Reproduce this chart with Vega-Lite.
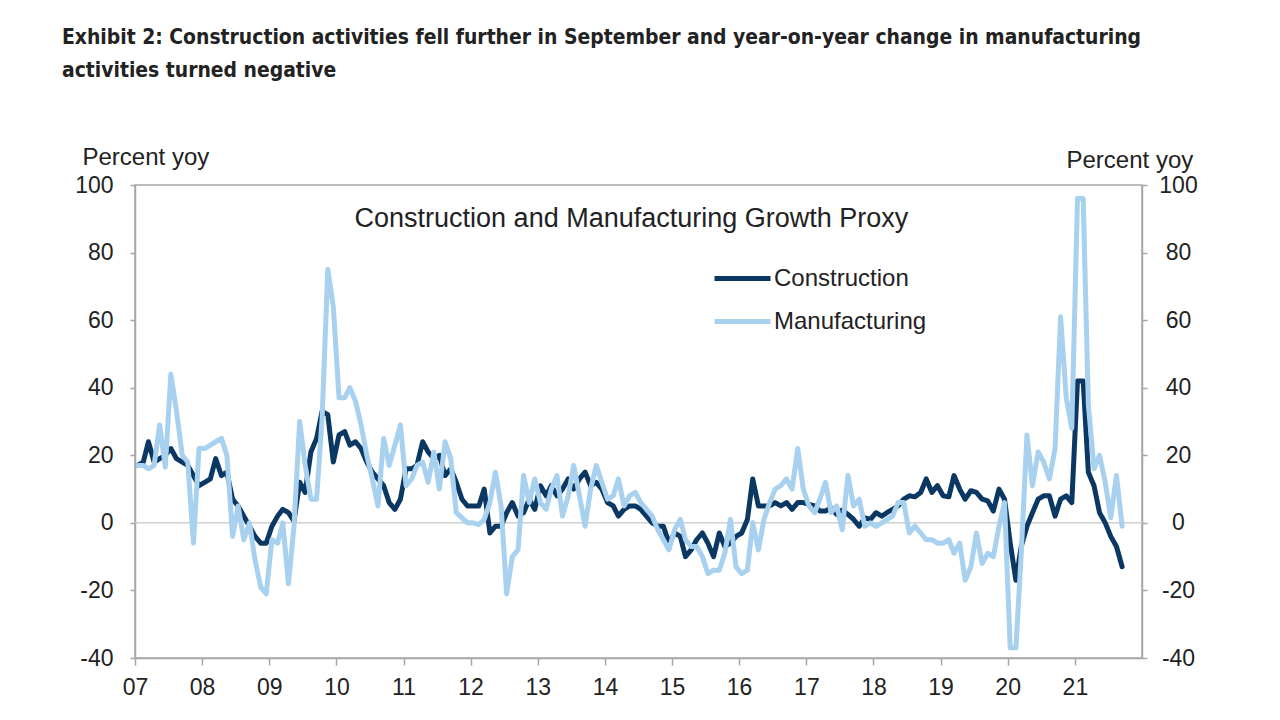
{
"$schema": "https://vega.github.io/schema/vega-lite/v6.json",
"width": 1007, "height": 473,
"autosize": {"type": "none"},
"padding": {"left": 135, "top": 185, "right": 138, "bottom": 62},
"background": "white",
"config": {"view": {"stroke": "#a6a6a6", "strokeWidth": 1.5}, "font": "Liberation Sans"},
"title": {"text": ["Exhibit 2: Construction activities fell further in September and year-on-year change in manufacturing", "activities turned negative"], "anchor": "start", "frame": "group", "dx": -73, "offset": 64, "font": "Liberation Sans Narrow, DejaVu Sans Condensed, Liberation Sans", "fontWeight": "bold", "fontSize": 20.9, "lineHeight": 33, "color": "#222222"},
"layer": [
{"data": {"values": [{"z": 0}]},
 "mark": {"type": "rule", "color": "#d0d0d0", "strokeWidth": 1.5},
 "encoding": {"y": {"field": "z", "type": "quantitative", "scale": {"domain": [-40, 100], "nice": false}, "axis": null}}},
{"data": {"values": [
{"date":"2007-01-15","Construction":17,"Manufacturing":17},
{"date":"2007-02-15","Construction":18,"Manufacturing":17},
{"date":"2007-03-15","Construction":24,"Manufacturing":16},
{"date":"2007-04-15","Construction":18,"Manufacturing":17},
{"date":"2007-05-15","Construction":19,"Manufacturing":29},
{"date":"2007-06-15","Construction":20,"Manufacturing":16.5},
{"date":"2007-07-15","Construction":22,"Manufacturing":44},
{"date":"2007-08-15","Construction":19,"Manufacturing":33},
{"date":"2007-09-15","Construction":18,"Manufacturing":20},
{"date":"2007-10-15","Construction":17,"Manufacturing":18},
{"date":"2007-11-15","Construction":14,"Manufacturing":-6},
{"date":"2007-12-15","Construction":11,"Manufacturing":22},
{"date":"2008-01-15","Construction":12,"Manufacturing":22},
{"date":"2008-02-15","Construction":13,"Manufacturing":23},
{"date":"2008-03-15","Construction":19,"Manufacturing":24},
{"date":"2008-04-15","Construction":14,"Manufacturing":25},
{"date":"2008-05-15","Construction":15,"Manufacturing":20},
{"date":"2008-06-15","Construction":7,"Manufacturing":-4},
{"date":"2008-07-15","Construction":5,"Manufacturing":5},
{"date":"2008-08-15","Construction":2,"Manufacturing":-5},
{"date":"2008-09-15","Construction":-1,"Manufacturing":0},
{"date":"2008-10-15","Construction":-4,"Manufacturing":-11},
{"date":"2008-11-15","Construction":-6,"Manufacturing":-19},
{"date":"2008-12-15","Construction":-6,"Manufacturing":-21},
{"date":"2009-01-15","Construction":-1,"Manufacturing":-5},
{"date":"2009-02-15","Construction":2,"Manufacturing":-6},
{"date":"2009-03-15","Construction":4,"Manufacturing":0},
{"date":"2009-04-15","Construction":3,"Manufacturing":-18},
{"date":"2009-05-15","Construction":0.5,"Manufacturing":-1},
{"date":"2009-06-15","Construction":12,"Manufacturing":30},
{"date":"2009-07-15","Construction":9,"Manufacturing":17},
{"date":"2009-08-15","Construction":21,"Manufacturing":7},
{"date":"2009-09-15","Construction":25,"Manufacturing":7},
{"date":"2009-10-15","Construction":33,"Manufacturing":31},
{"date":"2009-11-15","Construction":32,"Manufacturing":75},
{"date":"2009-12-15","Construction":18,"Manufacturing":64},
{"date":"2010-01-15","Construction":26,"Manufacturing":37},
{"date":"2010-02-15","Construction":27,"Manufacturing":37},
{"date":"2010-03-15","Construction":23,"Manufacturing":40},
{"date":"2010-04-15","Construction":24,"Manufacturing":36},
{"date":"2010-05-15","Construction":22,"Manufacturing":29},
{"date":"2010-06-15","Construction":18,"Manufacturing":20},
{"date":"2010-07-15","Construction":15,"Manufacturing":13},
{"date":"2010-08-15","Construction":13,"Manufacturing":5},
{"date":"2010-09-15","Construction":11,"Manufacturing":25},
{"date":"2010-10-15","Construction":6,"Manufacturing":17},
{"date":"2010-11-15","Construction":4,"Manufacturing":23},
{"date":"2010-12-15","Construction":7,"Manufacturing":29},
{"date":"2011-01-15","Construction":16,"Manufacturing":11},
{"date":"2011-02-15","Construction":16,"Manufacturing":13},
{"date":"2011-03-15","Construction":17,"Manufacturing":17},
{"date":"2011-04-15","Construction":24,"Manufacturing":18},
{"date":"2011-05-15","Construction":21,"Manufacturing":12},
{"date":"2011-06-15","Construction":19,"Manufacturing":21},
{"date":"2011-07-15","Construction":20,"Manufacturing":10},
{"date":"2011-08-15","Construction":14,"Manufacturing":24},
{"date":"2011-09-15","Construction":16,"Manufacturing":19},
{"date":"2011-10-15","Construction":12,"Manufacturing":3},
{"date":"2011-11-15","Construction":7,"Manufacturing":1.5},
{"date":"2011-12-15","Construction":5,"Manufacturing":0},
{"date":"2012-01-15","Construction":5,"Manufacturing":0},
{"date":"2012-02-15","Construction":5,"Manufacturing":-0.5},
{"date":"2012-03-15","Construction":10,"Manufacturing":1},
{"date":"2012-04-15","Construction":-3,"Manufacturing":6},
{"date":"2012-05-15","Construction":-1,"Manufacturing":15},
{"date":"2012-06-15","Construction":-1,"Manufacturing":5},
{"date":"2012-07-15","Construction":3,"Manufacturing":-21},
{"date":"2012-08-15","Construction":6,"Manufacturing":-10},
{"date":"2012-09-15","Construction":2,"Manufacturing":-8},
{"date":"2012-10-15","Construction":3,"Manufacturing":14},
{"date":"2012-11-15","Construction":7,"Manufacturing":6},
{"date":"2012-12-15","Construction":4,"Manufacturing":13},
{"date":"2013-01-15","Construction":11,"Manufacturing":6},
{"date":"2013-02-15","Construction":8,"Manufacturing":4},
{"date":"2013-03-15","Construction":11,"Manufacturing":10},
{"date":"2013-04-15","Construction":8,"Manufacturing":14},
{"date":"2013-05-15","Construction":10,"Manufacturing":2},
{"date":"2013-06-15","Construction":13,"Manufacturing":8},
{"date":"2013-07-15","Construction":10,"Manufacturing":17},
{"date":"2013-08-15","Construction":13,"Manufacturing":8},
{"date":"2013-09-15","Construction":15,"Manufacturing":-1},
{"date":"2013-10-15","Construction":11,"Manufacturing":10},
{"date":"2013-11-15","Construction":12,"Manufacturing":17},
{"date":"2013-12-15","Construction":10,"Manufacturing":12},
{"date":"2014-01-15","Construction":6,"Manufacturing":7},
{"date":"2014-02-15","Construction":5,"Manufacturing":8},
{"date":"2014-03-15","Construction":2,"Manufacturing":13},
{"date":"2014-04-15","Construction":4,"Manufacturing":5},
{"date":"2014-05-15","Construction":5,"Manufacturing":8},
{"date":"2014-06-15","Construction":5,"Manufacturing":9},
{"date":"2014-07-15","Construction":4,"Manufacturing":6},
{"date":"2014-08-15","Construction":2,"Manufacturing":4},
{"date":"2014-09-15","Construction":0,"Manufacturing":2},
{"date":"2014-10-15","Construction":-1,"Manufacturing":-2},
{"date":"2014-11-15","Construction":-1,"Manufacturing":-5},
{"date":"2014-12-15","Construction":-6,"Manufacturing":-8},
{"date":"2015-01-15","Construction":-3,"Manufacturing":-2},
{"date":"2015-02-15","Construction":-4,"Manufacturing":1},
{"date":"2015-03-15","Construction":-10,"Manufacturing":-5},
{"date":"2015-04-15","Construction":-8,"Manufacturing":-7},
{"date":"2015-05-15","Construction":-5,"Manufacturing":-7},
{"date":"2015-06-15","Construction":-3,"Manufacturing":-10},
{"date":"2015-07-15","Construction":-6,"Manufacturing":-15},
{"date":"2015-08-15","Construction":-10,"Manufacturing":-14},
{"date":"2015-09-15","Construction":-3,"Manufacturing":-14},
{"date":"2015-10-15","Construction":-7,"Manufacturing":-9},
{"date":"2015-11-15","Construction":-6,"Manufacturing":1},
{"date":"2015-12-15","Construction":-4,"Manufacturing":-13},
{"date":"2016-01-15","Construction":-3,"Manufacturing":-15},
{"date":"2016-02-15","Construction":1,"Manufacturing":-14},
{"date":"2016-03-15","Construction":13,"Manufacturing":0},
{"date":"2016-04-15","Construction":5,"Manufacturing":-8},
{"date":"2016-05-15","Construction":5,"Manufacturing":1},
{"date":"2016-06-15","Construction":5,"Manufacturing":6},
{"date":"2016-07-15","Construction":6,"Manufacturing":10},
{"date":"2016-08-15","Construction":5,"Manufacturing":11},
{"date":"2016-09-15","Construction":6,"Manufacturing":13},
{"date":"2016-10-15","Construction":4,"Manufacturing":10},
{"date":"2016-11-15","Construction":6,"Manufacturing":22},
{"date":"2016-12-15","Construction":6,"Manufacturing":10},
{"date":"2017-01-15","Construction":5.5,"Manufacturing":5},
{"date":"2017-02-15","Construction":5,"Manufacturing":3},
{"date":"2017-03-15","Construction":3.5,"Manufacturing":7},
{"date":"2017-04-15","Construction":3.5,"Manufacturing":12},
{"date":"2017-05-15","Construction":4.4,"Manufacturing":3},
{"date":"2017-06-15","Construction":2.5,"Manufacturing":5},
{"date":"2017-07-15","Construction":3.8,"Manufacturing":-2},
{"date":"2017-08-15","Construction":2.5,"Manufacturing":14},
{"date":"2017-09-15","Construction":1,"Manufacturing":5},
{"date":"2017-10-15","Construction":-1,"Manufacturing":7},
{"date":"2017-11-15","Construction":1.5,"Manufacturing":-1},
{"date":"2017-12-15","Construction":1,"Manufacturing":0},
{"date":"2018-01-15","Construction":3,"Manufacturing":-1},
{"date":"2018-02-15","Construction":2,"Manufacturing":0},
{"date":"2018-03-15","Construction":3,"Manufacturing":1},
{"date":"2018-04-15","Construction":4,"Manufacturing":2},
{"date":"2018-05-15","Construction":5,"Manufacturing":6},
{"date":"2018-06-15","Construction":7,"Manufacturing":6},
{"date":"2018-07-15","Construction":8,"Manufacturing":-3},
{"date":"2018-08-15","Construction":7.7,"Manufacturing":-1},
{"date":"2018-09-15","Construction":9,"Manufacturing":-3},
{"date":"2018-10-15","Construction":13,"Manufacturing":-5},
{"date":"2018-11-15","Construction":9,"Manufacturing":-5},
{"date":"2018-12-15","Construction":11,"Manufacturing":-6},
{"date":"2019-01-15","Construction":8,"Manufacturing":-6},
{"date":"2019-02-15","Construction":7.7,"Manufacturing":-5},
{"date":"2019-03-15","Construction":14,"Manufacturing":-9},
{"date":"2019-04-15","Construction":10,"Manufacturing":-6},
{"date":"2019-05-15","Construction":7,"Manufacturing":-17},
{"date":"2019-06-15","Construction":9.5,"Manufacturing":-13},
{"date":"2019-07-15","Construction":9,"Manufacturing":-3},
{"date":"2019-08-15","Construction":7,"Manufacturing":-12},
{"date":"2019-09-15","Construction":6.5,"Manufacturing":-9},
{"date":"2019-10-15","Construction":3.5,"Manufacturing":-10},
{"date":"2019-11-15","Construction":10,"Manufacturing":-1},
{"date":"2019-12-15","Construction":7,"Manufacturing":6},
{"date":"2020-01-15","Construction":-6,"Manufacturing":-37},
{"date":"2020-02-15","Construction":-17,"Manufacturing":-37},
{"date":"2020-03-15","Construction":-7,"Manufacturing":-9},
{"date":"2020-04-15","Construction":-1,"Manufacturing":26},
{"date":"2020-05-15","Construction":3,"Manufacturing":11},
{"date":"2020-06-15","Construction":7,"Manufacturing":21},
{"date":"2020-07-15","Construction":8,"Manufacturing":18},
{"date":"2020-08-15","Construction":8,"Manufacturing":13},
{"date":"2020-09-15","Construction":2,"Manufacturing":22},
{"date":"2020-10-15","Construction":7,"Manufacturing":61},
{"date":"2020-11-15","Construction":8,"Manufacturing":37},
{"date":"2020-12-15","Construction":6,"Manufacturing":28},
{"date":"2021-01-15","Construction":42,"Manufacturing":96},
{"date":"2021-02-15","Construction":42,"Manufacturing":96},
{"date":"2021-03-15","Construction":15,"Manufacturing":35},
{"date":"2021-04-15","Construction":11,"Manufacturing":16},
{"date":"2021-05-15","Construction":3,"Manufacturing":20},
{"date":"2021-06-15","Construction":0,"Manufacturing":12},
{"date":"2021-07-15","Construction":-4,"Manufacturing":1.5},
{"date":"2021-08-15","Construction":-7,"Manufacturing":14},
{"date":"2021-09-15","Construction":-13,"Manufacturing":-1}
]},
 "transform": [{"fold": ["Construction", "Manufacturing"], "as": ["series", "value"]}],
 "mark": {"type": "line", "strokeWidth": 5, "strokeJoin": "round", "strokeCap": "round"},
 "encoding": {
  "x": {"field": "date", "type": "temporal",
        "scale": {"type": "utc", "domain": [{"year": 2007, "month": 1, "date": 1, "utc": true}, {"year": 2022, "month": 1, "date": 1, "utc": true}]},
        "axis": {"values": [{"year":2007,"month":1,"date":1,"utc":true},{"year":2008,"month":1,"date":1,"utc":true},{"year":2009,"month":1,"date":1,"utc":true},{"year":2010,"month":1,"date":1,"utc":true},{"year":2011,"month":1,"date":1,"utc":true},{"year":2012,"month":1,"date":1,"utc":true},{"year":2013,"month":1,"date":1,"utc":true},{"year":2014,"month":1,"date":1,"utc":true},{"year":2015,"month":1,"date":1,"utc":true},{"year":2016,"month":1,"date":1,"utc":true},{"year":2017,"month":1,"date":1,"utc":true},{"year":2018,"month":1,"date":1,"utc":true},{"year":2019,"month":1,"date":1,"utc":true},{"year":2020,"month":1,"date":1,"utc":true},{"year":2021,"month":1,"date":1,"utc":true}],
                 "format": "%y", "title": null, "grid": false, "labelFontSize": 23, "labelColor": "#222222", "labelFont": "Liberation Sans",
                 "tickSize": 7, "tickColor": "#a6a6a6", "tickWidth": 1.5, "domainColor": "#a6a6a6", "domainWidth": 1.5,
                 "labelPadding": 11, "labelFlush": false, "labelOverlap": false}},
  "y": {"field": "value", "type": "quantitative", "scale": {"domain": [-40, 100], "nice": false},
        "axis": {"orient": "left", "values": [-40, -20, 0, 20, 40, 60, 80, 100], "labelExpr": "'' + datum.value", "grid": false, "labelFontSize": 23, "labelColor": "#222222", "labelFont": "Liberation Sans",
                 "tickSize": 5, "tickColor": "#a6a6a6", "tickWidth": 1.5, "domainColor": "#a6a6a6", "domainWidth": 1.5, "labelPadding": 17,
                 "title": "Percent yoy", "titleAngle": 0, "titleAlign": "left", "titleBaseline": "middle", "titleX": -53, "titleY": -28,
                 "titleFontSize": 24, "titleFontWeight": "normal", "titleColor": "#222222", "titleFont": "Liberation Sans"}},
  "color": {"field": "series", "type": "nominal",
            "scale": {"domain": ["Construction", "Manufacturing"], "range": ["#0b3763", "#a8d0ef"]},
            "legend": {"orient": "none", "legendX": 577, "legendY": 63, "title": null, "symbolType": "stroke", "symbolSize": 3136, "symbolStrokeWidth": 5,
                       "labelFontSize": 24, "labelFont": "Liberation Sans", "labelColor": "#222222", "rowPadding": -16, "labelOffset": 1}}
 }},
{"data": {"values": [{"label": "Construction and Manufacturing Growth Proxy"}]},
 "mark": {"type": "text", "fontSize": 27, "font": "Liberation Sans", "color": "#222222", "align": "center", "baseline": "middle"},
 "encoding": {
  "x": {"datum": {"year": 2014, "month": 5, "date": 25, "utc": true}, "type": "temporal"},
  "y": {"datum": 90, "type": "quantitative",
        "axis": {"orient": "right", "values": [-40, -20, 0, 20, 40, 60, 80, 100], "labelExpr": "'' + datum.value", "grid": false, "labelFontSize": 23, "labelColor": "#222222", "labelFont": "Liberation Sans",
                 "tickSize": 5, "tickColor": "#a6a6a6", "tickWidth": 1.5, "domainColor": "#a6a6a6", "domainWidth": 1.5, "labelPadding": 31, "labelAlign": "center",
                 "title": "Percent yoy", "titleAngle": 0, "titleAlign": "left", "titleBaseline": "middle", "titleX": -76, "titleY": -25,
                 "titleFontSize": 24, "titleFontWeight": "normal", "titleColor": "#222222", "titleFont": "Liberation Sans"}},
  "text": {"field": "label", "type": "nominal"}
 }}
],
"resolve": {"axis": {"y": "independent"}}
}
